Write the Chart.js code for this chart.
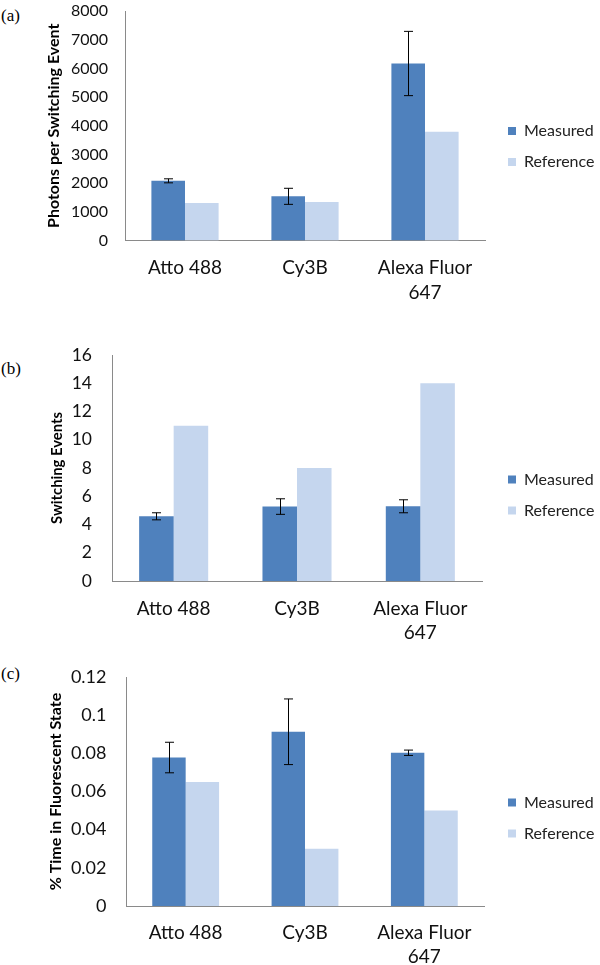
<!DOCTYPE html>
<html><head><meta charset="utf-8">
<script src="https://cdn.jsdelivr.net/npm/chart.js@4.4.1/dist/chart.umd.min.js"></script>
<style>
html,body{margin:0;padding:0;background:#fff;overflow:hidden;width:600px;height:965px;position:relative;}
.tag{position:absolute;left:1px;font-family:"Liberation Serif","DejaVu Serif",serif;font-size:17px;color:#000;line-height:1;}
canvas{position:absolute;left:0;}
</style></head><body>
<div class="tag" style="top:7px">(a)</div>
<div class="tag" style="top:360px">(b)</div>
<div class="tag" style="top:665px">(c)</div>
<canvas id="ca" width="600" height="331" style="top:-20px;width:600px;height:331px"></canvas>
<canvas id="cb" width="600" height="352" style="top:300px;width:600px;height:352px"></canvas>
<canvas id="cc" width="600" height="325" style="top:640px;width:600px;height:325px"></canvas>
<script>
// ---- data ----
const categories = ['Atto 488', 'Cy3B', ['Alexa Fluor', '647']];
const seriesNames = ['Measured', 'Reference'];

const photonsMeasured = [2080, 1540, 6170];
const photonsMeasuredErr = [70, 280, 1120];
const photonsReference = [1310, 1340, 3790];
const photonsTicks = ['0', '1000', '2000', '3000', '4000', '5000', '6000', '7000', '8000'];

const switchMeasured = [4.58, 5.27, 5.29];
const switchMeasuredErr = [0.25, 0.55, 0.46];
const switchReference = [11, 8, 14];
const switchTicks = ['0', '2', '4', '6', '8', '10', '12', '14', '16'];

const timeMeasured = [0.0778, 0.0913, 0.0803];
const timeMeasuredErr = [0.008, 0.0172, 0.0014];
const timeReference = [0.065, 0.03, 0.05];
const timeTicks = ['0', '0.02', '0.04', '0.06', '0.08', '0.1', '0.12'];

const titles = ['Photons per Switching Event', 'Switching Events', '% Time in Fluorescent State'];

// ---- styles ----
const MEASURED_COLOR = '#4F81BD';
const REFERENCE_COLOR = '#C5D6EE';
const AXIS_COLOR = '#8a8a8a';
const FONT = 'Lato, "Open Sans", sans-serif';

const errorBarPlugin = {
  id: 'errorBars',
  afterDatasetsDraw(chart, args, opts) {
    const errs = opts.errors;
    if (!errs) return;
    const meta = chart.getDatasetMeta(0);
    const ys = chart.scales.y;
    const vals = chart.data.datasets[0].data;
    const ctx = chart.ctx;
    ctx.save();
    ctx.strokeStyle = '#000';
    ctx.lineWidth = 1;
    meta.data.forEach((bar, i) => {
      const x = Math.round(bar.x) + 0.5;
      const yTop = ys.getPixelForValue(vals[i] + errs[i]);
      const yBot = ys.getPixelForValue(vals[i] - errs[i]);
      ctx.beginPath();
      ctx.moveTo(x, yTop); ctx.lineTo(x, yBot);
      ctx.moveTo(x - 4.5, yTop); ctx.lineTo(x + 4.5, yTop);
      ctx.moveTo(x - 4.5, yBot); ctx.lineTo(x + 4.5, yBot);
      ctx.stroke();
    });
    ctx.restore();
  }
};

function build(id, s) {
  return new Chart(document.getElementById(id), {
    type: 'bar',
    data: {
      labels: categories,
      datasets: [
        { label: seriesNames[0], data: s.measured, backgroundColor: MEASURED_COLOR, borderWidth: 0, yAxisID: 'y' },
        { label: seriesNames[1], data: s.reference, backgroundColor: REFERENCE_COLOR, borderWidth: 0, yAxisID: 'y' }
      ]
    },
    options: {
      responsive: false,
      animation: false,
      devicePixelRatio: 1,
      layout: { padding: { top: s.padTop, bottom: s.padBottom, left: 0, right: 0 } },
      datasets: { bar: { categoryPercentage: 0.56, barPercentage: 1.0 } },
      scales: {
        y: {
          position: 'left',
          min: 0, max: s.yMax,
          ticks: {
            stepSize: s.yStep, padding: s.tickPad, color: '#111',
            font: { family: FONT, size: s.tickSize },
            callback: (v, i) => s.yTicks[i]
          },
          grid: { display: false, drawTicks: false },
          border: { display: true, color: AXIS_COLOR, width: 1 },
          title: {
            display: true, text: s.title, color: '#000',
            font: { family: FONT, size: s.titleSize, weight: 'bold' },
            padding: { top: s.titlePad, bottom: 0 }
          },
          afterFit(sc) { sc.width = s.yWidth; }
        },
        x: {
          position: 'bottom',
          ticks: {
            padding: s.xTickPad, color: '#111', maxRotation: 0, autoSkip: false,
            font: { family: FONT, size: 19, lineHeight: s.xLine }
          },
          grid: { display: false, drawTicks: false },
          border: { display: true, color: AXIS_COLOR, width: 1 },
          afterFit(sc) { sc.height = s.xHeight; }
        },
        gap: {
          type: 'linear', position: 'right', display: true,
          ticks: { display: false },
          grid: { display: false, drawTicks: false },
          border: { display: false },
          afterFit(sc) { sc.width = s.gap; }
        }
      },
      plugins: {
        legend: {
          position: 'right',
          fullSize: false,
          maxWidth: 107,
          title: { display: true, text: '', font: { size: 10, lineHeight: 1 }, padding: { top: s.legendShift - 10, bottom: 0 } },
          labels: {
            boxWidth: 8, boxHeight: 8, padding: 15, color: '#222',
            font: { family: FONT, size: 16 }
          }
        },
        tooltip: { enabled: false },
        errorBars: { errors: s.errors }
      }
    },
    plugins: [errorBarPlugin]
  });
}

build('ca', {
  measured: photonsMeasured, reference: photonsReference, errors: photonsMeasuredErr,
  yMax: 8000, yStep: 1000, yTicks: photonsTicks, title: titles[0], tickSize: 16, titleSize: 16,
  padTop: 31, padBottom: 0.5, xHeight: 70, yWidth: 125, tickPad: 17, titlePad: 44,
  gap: 8, xTickPad: 15, xLine: 25 / 19, legendShift: 41.5
});
build('cb', {
  measured: switchMeasured, reference: switchReference, errors: switchMeasuredErr,
  yMax: 16, yStep: 2, yTicks: switchTicks, title: titles[1], tickSize: 17.5, titleSize: 14.8,
  padTop: 55, padBottom: 1, xHeight: 70, yWidth: 112, tickPad: 20, titlePad: 48.6,
  gap: 11, xTickPad: 16, xLine: 24 / 19, legendShift: 54
});
build('cc', {
  measured: timeMeasured, reference: timeReference, errors: timeMeasuredErr,
  yMax: 0.12, yStep: 0.02, yTicks: timeTicks, title: titles[2], tickSize: 18, titleSize: 16,
  padTop: 37, padBottom: 0, xHeight: 59, yWidth: 126, tickPad: 19.5, titlePad: 46.5,
  gap: 9, xTickPad: 15, xLine: 24 / 19, legendShift: 53
});
</script>
</body></html>
